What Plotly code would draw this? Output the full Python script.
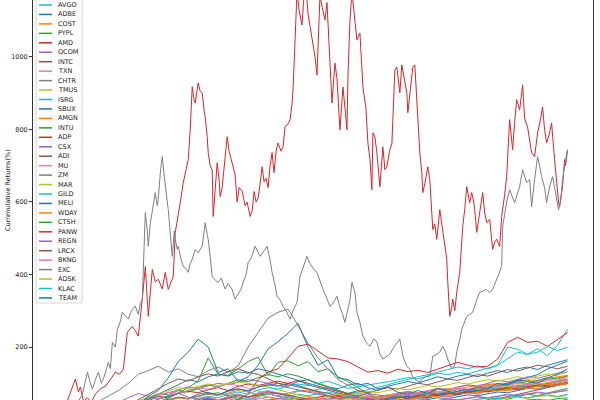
''' Cumulative returns of Nasdaq-100 names, recreated with plotly '''

import plotly.graph_objects as go

# Trading-day grid shared by the smaller series (every 20th day)
days = list(range(0, 1021, 20))

# The two big movers are read at irregular days to keep their spikes
tsla_days = [0, 8, 16, 24, 34, 40, 44, 50, 58, 66, 74, 84, 94, 104, 114, 122, 130, 138, 148, 154, 160, 168, 174, 180, 188, 194,
             200, 208, 214, 220, 226, 230, 234, 240, 244, 250, 256, 260, 264, 268, 272, 274, 278, 280, 284, 288, 292, 294, 298,
             300, 304, 308, 310, 314, 318, 322, 324, 328, 332, 338, 342, 348, 354, 358, 362, 368, 374, 378, 384, 388, 392, 396,
             400, 404, 408, 412, 416, 420, 424, 428, 432, 436, 440, 446, 450, 454, 460, 464, 468, 470, 474, 478, 482, 488, 492,
             496, 500, 504, 510, 514, 518, 522, 524, 528, 534, 538, 544, 548, 554, 558, 564, 570, 574, 578, 580, 584, 588, 592,
             598, 604, 610, 616, 620, 624, 628, 630, 634, 638, 640, 644, 650, 654, 658, 664, 668, 670, 674, 678, 684, 688, 694,
             698, 700, 704, 708, 710, 714, 718, 722, 724, 728, 730, 734, 738, 740, 744, 748, 750, 754, 758, 764, 770, 774, 778,
             780, 784, 788, 790, 794, 798, 804, 810, 814, 818, 824, 828, 832, 834, 838, 844, 848, 850, 854, 858, 864, 868, 870,
             874, 878, 884, 888, 894, 898, 904, 908, 910, 914, 918, 924, 930, 934, 940, 944, 948, 954, 960, 966, 970, 974, 978,
             984, 988, 994, 998, 1002, 1004, 1008, 1010, 1014, 1016, 1020]
tsla = [0, 20, 45, 76, 112, 76, 90, 50, 60, 48, 70, 85, 92, 110, 131, 125, 139, 241, 257, 245, 230, 332, 422, 285, 414, 380,
        387, 360, 406, 359, 380, 395, 516, 560, 598, 653, 690, 717, 800, 918, 880, 873, 910, 928, 905, 900, 850, 835, 780,
        736, 700, 689, 560, 650, 708, 660, 615, 640, 700, 780, 740, 708, 675, 600, 640, 630, 590, 600, 560, 575, 629, 600,
        610, 650, 697, 656, 665, 640, 700, 736, 681, 740, 763, 740, 752, 808, 815, 827, 870, 909, 1050, 1180, 1130, 1088, 1170,
        1190, 1120, 1083, 1039, 1000, 950, 1100, 1170, 1140, 1102, 1150, 992, 873, 983, 940, 799, 917, 860, 799, 945, 1100, 1180, 1120,
        1047, 1066, 917, 860, 763, 720, 634, 791, 780, 736, 708, 642, 752, 689, 697, 744, 760, 846, 964, 972, 901, 978, 930,
        901, 846, 900, 945, 972, 978, 882, 800, 736, 681, 626, 650, 689, 697, 662, 587, 524, 540, 497, 579, 516, 480, 442,
        380, 285, 310, 332, 300, 351, 406, 532, 580, 642, 598, 626, 600, 579, 516, 571, 600, 626, 570, 543, 552, 500, 469,
        490, 497, 477, 560, 620, 670, 827, 780, 744, 820, 882, 854, 923, 830, 807, 770, 736, 725, 791, 830, 862, 800, 763,
        790, 818, 717, 653, 600, 587, 620, 642, 717, 700, 744]

nvda_days = [0, 8, 16, 24, 32, 40, 48, 58, 64, 68, 74, 80, 86, 92, 100, 104, 108, 114, 118, 124, 128, 134, 140, 146, 154, 160,
             164, 168, 172, 174, 178, 180, 184, 188, 192, 194, 198, 200, 204, 208, 212, 214, 218, 220, 224, 228, 232, 234, 238,
             240, 246, 250, 256, 260, 264, 268, 274, 280, 288, 294, 298, 300, 304, 308, 314, 320, 326, 334, 340, 348, 354, 360,
             366, 370, 376, 380, 386, 394, 400, 404, 410, 418, 424, 428, 434, 438, 444, 450, 456, 464, 470, 478, 484, 490, 498,
             504, 508, 514, 518, 524, 530, 536, 544, 550, 558, 564, 568, 574, 578, 584, 588, 594, 598, 604, 610, 618, 624, 632,
             638, 644, 650, 658, 664, 672, 680, 684, 690, 698, 704, 710, 718, 724, 728, 736, 744, 750, 758, 764, 770, 776, 780,
             788, 794, 798, 804, 808, 814, 818, 824, 830, 838, 844, 852, 858, 864, 870, 876, 880, 884, 888, 890, 894, 898, 904,
             910, 914, 920, 924, 930, 934, 938, 944, 948, 954, 960, 964, 968, 974, 978, 984, 990, 994, 998, 1002, 1006, 1010,
             1014, 1020]
nvda = [0, 10, 20, 30, 45, 50, 70, 131, 100, 84, 110, 131, 100, 120, 158, 140, 213, 200, 249, 270, 296, 285, 277, 300, 313, 290,
        320, 332, 480, 571, 520, 478, 540, 571, 600, 626, 590, 607, 680, 725, 670, 642, 600, 579, 500, 450, 520, 497, 470,
        478, 440, 422, 415, 406, 430, 442, 469, 460, 478, 543, 510, 497, 450, 395, 385, 378, 390, 360, 375, 359, 332, 345,
        360, 378, 400, 433, 445, 478, 460, 450, 462, 478, 440, 406, 370, 340, 330, 312, 300, 277, 300, 323, 395, 420, 450,
        430, 422, 410, 406, 380, 359, 340, 312, 320, 340, 310, 296, 268, 297, 330, 378, 351, 296, 268, 230, 210, 202, 222,
        215, 180, 167, 175, 180, 200, 216, 222, 175, 147, 139, 117, 108, 103, 112, 118, 120, 175, 180, 186, 202, 185, 167,
        139, 150, 186, 220, 249, 270, 285, 290, 296, 330, 351, 355, 359, 350, 359, 380, 395, 405, 422, 532, 571, 600, 634,
        610, 598, 625, 642, 689, 670, 653, 662, 587, 662, 725, 700, 670, 640, 598, 642, 670, 640, 607, 579, 600, 662,
        700, 744]

# Smaller series, one value per grid day
aapl = [0, 4, 8, 5, 12, 18, 22, 15, 25, 35, 45, 52, 60, 58, 70, 75, 68, 80, 85, 78, 90, 95, 100, 92, 105, 110,
        98, 90, 85, 95, 100, 88, 80, 92, 98, 105, 100, 110, 118, 112, 120, 125, 118, 128, 135, 130, 140, 145, 138, 150, 158, 165]
msft = [0, 3, 6, 2, 10, 14, 18, 12, 20, 28, 34, 40, 45, 42, 50, 55, 48, 58, 62, 55, 66, 70, 74, 68, 78, 82,
        72, 65, 60, 70, 74, 66, 60, 68, 72, 78, 74, 80, 85, 82, 90, 94, 88, 96, 100, 95, 104, 108, 102, 110, 115, 120]
amzn = [0, 5, 9, 4, 15, 22, 30, 35, 48, 60, 72, 68, 80, 76, 85, 70, 74, 66, 70, 62, 68, 72, 64, 60, 58, 52,
        48, 44, 40, 36, 32, 28, 35, 30, 38, 42, 36, 40, 45, 42, 48, 52, 46, 55, 60, 56, 64, 70, 66, 74, 80, 86]
googl = [0, 2, -4, 5, 10, 15, 12, 8, 20, 28, 36, 42, 50, 46, 55, 60, 52, 62, 68, 60, 72, 78, 70, 64, 58, 50,
         44, 40, 36, 42, 48, 40, 36, 44, 50, 56, 52, 60, 66, 62, 70, 76, 70, 80, 86, 82, 90, 96, 92, 100, 105, 110]
meta = [0, 4, -2, 8, 12, 6, 10, 18, 26, 34, 30, 40, 48, 44, 52, 58, 50, 45, 38, 30, 22, 15, 10, 5, 0, -10,
        -20, -25, -30, -22, -15, -20, -12, -5, -10, 0, 8, 14, 20, 26, 32, 40, 46, 52, 58, 64, 70, 76, 82, 88, 95, 100]
goog = [0, 3, -2, 6, 11, 16, 13, 10, 22, 30, 38, 44, 52, 48, 58, 62, 55, 64, 70, 62, 74, 80, 72, 66, 60, 52,
        46, 42, 38, 44, 50, 42, 38, 46, 52, 58, 54, 62, 68, 64, 72, 78, 72, 82, 88, 84, 92, 98, 94, 102, 107, 112]
pep = [0, 2, 4, 1, 5, 8, 10, 6, 12, 15, 18, 14, 20, 22, 18, 24, 26, 22, 28, 30, 26, 32, 35, 30, 34, 38,
       35, 40, 36, 42, 45, 40, 38, 44, 46, 42, 48, 50, 46, 52, 55, 50, 56, 58, 54, 60, 62, 58, 64, 66, 62, 68]
avgo = [0, 3, 6, 2, 8, 12, 10, 15, 20, 26, 30, 36, 40, 38, 45, 50, 46, 54, 60, 56, 64, 70, 66, 74, 80, 76,
        84, 88, 80, 72, 76, 82, 90, 96, 104, 112, 118, 124, 130, 138, 145, 140, 148, 139, 150, 200, 194, 180, 196, 176, 205, 249]
adbe = [0, 4, 8, 6, 12, 18, 24, 30, 36, 42, 48, 55, 62, 58, 66, 72, 68, 78, 84, 80, 90, 96, 92, 100, 94, 86,
        76, 66, 58, 50, 46, 40, 44, 48, 52, 46, 50, 56, 60, 58, 64, 68, 66, 72, 76, 74, 80, 86, 84, 90, 96, 100]
cost = [0, 2, 4, 3, 6, 10, 12, 9, 14, 18, 20, 17, 22, 26, 28, 25, 30, 34, 36, 33, 38, 42, 46, 44, 50, 54,
        58, 55, 60, 64, 62, 58, 62, 66, 70, 74, 72, 78, 82, 86, 84, 90, 94, 98, 96, 102, 106, 110, 108, 114, 118, 122]
pypl = [0, 4, -4, -8, 2, 8, 14, 20, 28, 38, 48, 60, 74, 88, 106, 170, 125, 122, 140, 160, 172, 122, 158, 162, 148, 160,
        132, 140, 118, 105, 88, 72, 60, 48, 36, 28, 22, 15, 10, 6, 2, -4, -8, -6, -12, -10, -14, -10, -16, -12, -18, -15]
amd = [0, 3, 6, 2, 10, 16, 22, 28, 40, 52, 64, 60, 72, 78, 74, 82, 88, 80, 92, 98, 94, 100, 106, 100, 108, 100,
       92, 84, 76, 70, 64, 58, 54, 60, 64, 58, 62, 68, 72, 68, 74, 78, 76, 82, 86, 84, 90, 96, 94, 100, 106, 110]
qcom = [0, 2, -4, -10, -2, 10, 22, 34, 46, 56, 66, 74, 82, 90, 86, 94, 100, 96, 104, 110, 106, 100, 94, 88, 80, 74,
        68, 62, 58, 64, 68, 62, 58, 64, 70, 66, 72, 76, 72, 78, 82, 78, 84, 88, 84, 90, 94, 90, 96, 100, 96, 102]
intc = [0, 3, 6, -2, -10, -4, 2, -6, -12, -8, -14, -10, -6, -12, -18, -14, -20, -16, -10, -6, -12, -18, -24, -30, -36, -42,
        -48, -44, -50, -46, -52, -48, -44, -50, -46, -42, -38, -34, -30, -34, -30, -26, -30, -26, -22, -26, -20, -24, -18, -22, -16, -20]
txn = [0, 2, -4, -8, -2, 4, 10, 16, 20, 26, 30, 28, 34, 38, 36, 42, 46, 44, 50, 54, 50, 46, 40, 34, 30, 36,
       40, 34, 30, 36, 40, 36, 42, 46, 42, 48, 52, 48, 54, 58, 54, 60, 64, 60, 66, 70, 66, 72, 76, 72, 78, 82]
chtr = [0, 3, 6, 4, 10, 16, 20, 16, 24, 30, 28, 34, 38, 34, 40, 44, 38, 30, 22, 14, 6, 0, -10, -20, -30, -38,
        -44, -40, -46, -50, -48, -44, -40, -36, -40, -36, -32, -34, -30, -26, -28, -24, -20, -22, -18, -14, -16, -12, -8, -10, -6, -4]
tmus = [0, 3, 6, 2, 8, 14, 18, 14, 22, 28, 32, 28, 36, 40, 36, 42, 46, 42, 48, 52, 48, 54, 58, 54, 60, 64,
        60, 56, 52, 58, 62, 58, 64, 68, 64, 70, 74, 70, 76, 80, 76, 82, 86, 82, 88, 92, 88, 94, 98, 94, 100, 106]
isrg = [0, 2, 5, 1, 8, 12, 15, 10, 18, 22, 28, 34, 38, 35, 42, 48, 44, 50, 56, 52, 58, 62, 58, 65, 70, 66,
        72, 76, 70, 64, 66, 60, 56, 62, 66, 70, 66, 72, 76, 72, 78, 82, 78, 84, 88, 84, 90, 94, 90, 96, 100, 104]
sbux = [0, 2, -2, -10, -6, 0, 6, 10, 14, 12, 18, 22, 20, 26, 30, 28, 34, 38, 36, 40, 44, 42, 46, 40, 34, 28,
        24, 20, 16, 22, 26, 20, 18, 24, 28, 26, 30, 34, 32, 36, 40, 38, 42, 46, 44, 48, 50, 46, 52, 54, 50, 56]
amgn = [0, 2, 4, 1, 6, 10, 8, 12, 16, 14, 18, 22, 20, 24, 28, 26, 30, 34, 32, 36, 40, 38, 34, 30, 32, 36,
        40, 44, 48, 52, 50, 54, 58, 56, 60, 64, 62, 66, 70, 68, 72, 76, 74, 78, 82, 80, 84, 88, 86, 90, 94, 98]
intu = [0, 3, -4, -8, 0, 10, 20, 30, 40, 48, 56, 64, 72, 80, 88, 96, 90, 100, 110, 104, 116, 124, 118, 126, 120, 110,
        100, 90, 80, 72, 64, 58, 52, 58, 64, 60, 68, 74, 70, 78, 84, 80, 88, 94, 90, 98, 104, 100, 108, 116, 112, 120]
adp = [0, 2, -6, -14, -8, 0, 4, 8, 6, 12, 16, 14, 18, 22, 20, 24, 28, 26, 30, 34, 38, 42, 46, 50, 54, 58,
       62, 66, 64, 60, 56, 58, 62, 66, 60, 64, 68, 66, 70, 74, 72, 76, 80, 78, 84, 88, 86, 92, 96, 94, 100, 104]
csx = [0, 3, -2, -6, 2, 8, 14, 18, 22, 26, 30, 28, 34, 38, 36, 42, 46, 44, 48, 52, 50, 54, 58, 56, 50, 44,
       40, 36, 42, 46, 40, 36, 40, 44, 40, 46, 50, 48, 52, 56, 54, 58, 62, 60, 64, 68, 66, 70, 74, 72, 76, 80]
adi = [0, 3, -3, -10, -4, 4, 10, 16, 22, 28, 34, 40, 46, 42, 50, 56, 52, 60, 66, 62, 70, 76, 72, 68, 62, 56,
       50, 44, 48, 54, 50, 46, 52, 58, 54, 60, 64, 60, 66, 72, 68, 74, 80, 76, 82, 86, 82, 88, 94, 90, 96, 100]
mu = [0, 4, -6, -16, -8, 6, 20, 32, 44, 56, 66, 76, 72, 80, 88, 84, 92, 98, 94, 86, 78, 70, 62, 56, 50, 44,
      40, 46, 52, 48, 54, 60, 56, 62, 68, 64, 70, 76, 72, 78, 84, 80, 86, 92, 88, 96, 102, 98, 106, 112, 108, 116]
zm = [0, 10, 20, 35, 50, 65, 80, 100, 125, 135, 147, 131, 140, 125, 118, 135, 145, 130, 148, 200, 241, 280, 296, 305, 260, 210,
      170, 140, 110, 95, 80, 70, 60, 50, 42, 36, 30, 26, 22, 18, 15, 12, 10, 8, 6, 8, 5, 3, 6, 4, 2, 4]
mar = [0, 2, -10, -35, -30, -24, -18, -14, -10, -6, -2, 2, -2, 4, 8, 6, 12, 16, 20, 24, 28, 32, 36, 40, 44, 48,
       52, 56, 60, 58, 62, 66, 64, 68, 72, 70, 74, 78, 76, 80, 84, 82, 86, 90, 88, 92, 96, 94, 98, 102, 100, 106]
gild = [0, 3, 1, 6, 10, 8, 12, 18, 22, 20, 16, 14, 10, 12, 8, 6, 4, 8, 10, 6, 2, -2, 0, 4, 8, 12,
        10, 14, 18, 22, 26, 30, 34, 38, 42, 40, 44, 48, 46, 50, 54, 52, 56, 60, 58, 62, 64, 60, 66, 68, 64, 70]
meli = [0, 4, 8, 3, 10, 18, 26, 34, 44, 56, 70, 82, 96, 110, 104, 118, 126, 120, 132, 128, 140, 134, 126, 118, 108, 96,
        88, 80, 72, 66, 60, 54, 50, 56, 60, 64, 58, 62, 68, 72, 78, 84, 80, 88, 94, 100, 108, 116, 124, 140, 150, 161]
wday = [0, 4, -4, -12, -4, 6, 14, 22, 30, 38, 46, 52, 60, 56, 64, 70, 66, 74, 80, 76, 70, 62, 54, 46, 40, 34,
        30, 36, 42, 38, 44, 50, 46, 52, 58, 54, 60, 66, 62, 68, 74, 70, 76, 82, 78, 84, 90, 86, 92, 98, 94, 102]
ctsh = [0, 2, -6, -14, -8, -2, 4, 8, 12, 16, 20, 18, 24, 28, 26, 30, 34, 32, 36, 40, 38, 34, 30, 26, 22, 26,
        30, 26, 22, 26, 30, 28, 32, 36, 34, 38, 40, 36, 42, 44, 40, 46, 48, 44, 50, 52, 48, 54, 56, 52, 58, 60]
panw = [0, 2, 5, 3, 8, 12, 10, 15, 20, 26, 30, 28, 35, 40, 38, 45, 50, 48, 55, 70, 110, 131, 140, 170, 202, 208,
        190, 170, 167, 160, 145, 131, 135, 128, 139, 132, 136, 130, 139, 148, 158, 150, 145, 147, 167, 213, 227, 213, 216, 202, 222, 240]
regn = [0, 5, 12, 18, 26, 36, 48, 60, 72, 64, 58, 66, 72, 62, 56, 60, 52, 48, 54, 50, 46, 42, 48, 52, 46, 50,
        56, 60, 56, 62, 66, 72, 68, 64, 70, 76, 72, 80, 86, 82, 90, 96, 92, 100, 108, 104, 112, 118, 114, 122, 128, 132]
lrcx = [0, 5, -5, -15, -5, 10, 25, 40, 55, 70, 85, 100, 112, 106, 118, 126, 120, 132, 140, 130, 125, 112, 100, 96, 90, 84,
        78, 72, 66, 72, 80, 74, 80, 88, 84, 92, 100, 96, 104, 112, 108, 116, 124, 120, 130, 138, 134, 142, 150, 146, 140, 147]
bkng = [0, 2, -10, -30, -24, -18, -12, -8, -4, 0, 6, 10, 14, 20, 26, 32, 38, 44, 50, 56, 60, 54, 48, 44, 50, 56,
        60, 54, 48, 52, 58, 64, 60, 66, 72, 68, 74, 80, 76, 82, 88, 84, 90, 94, 90, 96, 100, 96, 102, 108, 104, 110]
exc = [0, 2, 4, 1, -4, -10, -8, -4, 0, 2, 5, 3, 6, 8, 5, 10, 12, 9, 14, 16, 13, 18, 20, 17, 22, 24,
       21, 26, 28, 25, 30, 28, 26, 30, 32, 29, 34, 36, 33, 38, 36, 40, 42, 39, 44, 46, 43, 48, 50, 47, 52, 54]
adsk = [0, 4, -4, -10, -2, 12, 26, 40, 52, 62, 72, 80, 88, 84, 92, 98, 94, 100, 104, 100, 96, 90, 82, 74, 68, 62,
        58, 64, 70, 66, 72, 78, 74, 80, 86, 82, 88, 94, 90, 96, 102, 98, 104, 110, 106, 112, 118, 114, 120, 126, 122, 132]
klac = [0, 4, 8, 3, 12, 18, 22, 16, 26, 34, 40, 46, 52, 48, 58, 64, 60, 70, 76, 70, 82, 88, 84, 92, 98, 94,
        100, 106, 96, 86, 90, 96, 100, 104, 110, 116, 112, 120, 128, 124, 130, 126, 134, 140, 150, 168, 186, 180, 186, 202, 190, 200]
team = [0, 5, -3, 10, 18, 25, 30, 22, 40, 65, 80, 115, 160, 186, 222, 200, 130, 140, 105, 118, 150, 195, 215, 238, 265, 200,
        150, 165, 115, 110, 95, 100, 85, 90, 75, 70, 80, 72, 85, 78, 70, 80, 90, 85, 100, 95, 110, 105, 100, 115, 125, 140]

# Tickers in plotting order; the first nine sit above the visible part of the legend
tickers = ['AAPL', 'MSFT', 'AMZN', 'TSLA', 'GOOGL', 'META', 'GOOG', 'NVDA', 'PEP',
           'AVGO', 'ADBE', 'COST', 'PYPL', 'AMD', 'QCOM', 'INTC', 'TXN', 'CHTR', 'TMUS',
           'ISRG', 'SBUX', 'AMGN', 'INTU', 'ADP', 'CSX', 'ADI', 'MU', 'ZM', 'MAR',
           'GILD', 'MELI', 'WDAY', 'CTSH', 'PANW', 'REGN', 'LRCX', 'BKNG', 'EXC', 'ADSK', 'KLAC', 'TEAM']
series = [aapl, msft, amzn, tsla, googl, meta, goog, nvda, pep,
          avgo, adbe, cost, pypl, amd, qcom, intc, txn, chtr, tmus,
          isrg, sbux, amgn, intu, adp, csx, adi, mu, zm, mar,
          gild, meli, wday, ctsh, panw, regn, lrcx, bkng, exc, adsk, klac, team]
first_shown = 9  # AVGO is the first legend row that is visible

TAB10 = ['#1f77b4', '#ff7f0e', '#2ca02c', '#d62728', '#9467bd',
         '#8c564b', '#e377c2', '#7f7f7f', '#bcbd22', '#17becf']
FONT = 'DejaVu Sans'
W, H = 600, 400
L, R = 33, 7  # plot area margins in pixels


def px_x(px: float) -> float:
    ''' Pixel column to paper x '''
    return (px - L) / (W - L - R)


def px_y(py: float) -> float:
    ''' Pixel row to paper y '''
    return 1 - py / H


fig = go.Figure()
for i, (name, vals) in enumerate(zip(tickers, series)):
    if name == 'TSLA':
        xs = tsla_days
    elif name == 'NVDA':
        xs = nvda_days
    else:
        xs = days
    fig.add_trace(go.Scatter(
        x=xs, y=vals, name=name, mode='lines',
        line=dict(width=1, color=TAB10[i % 10]),
        hoverinfo='skip',
    ))

# Legend drawn by hand: plotly's minimum row height is too tall for 41 rows
shapes = [dict(type='rect', xref='paper', yref='paper',
               x0=px_x(36), x1=px_x(82), y0=px_y(303), y1=px_y(-5),
               line=dict(color='#d5d5d5', width=1), fillcolor='rgba(255,255,255,0.85)', layer='above')]
annotations = []
for k, name in enumerate(tickers[first_shown:]):
    row_y = 5 + k * 9.45
    color = TAB10[(k + first_shown) % 10]
    shapes.append(dict(type='line', xref='paper', yref='paper',
                       x0=px_x(39), x1=px_x(52), y0=px_y(row_y), y1=px_y(row_y),
                       line=dict(color=color, width=1.5), layer='above'))
    annotations.append(dict(x=px_x(56), y=px_y(row_y), xref='paper', yref='paper',
                            text=name, showarrow=False, xanchor='left', yanchor='middle',
                            font=dict(family=FONT, size=6.5, color='#222')))

# Rotated axis label, centred where it sits in the cropped original
annotations.append(dict(x=px_x(8), y=px_y(190), xref='paper', yref='paper',
                        text='Cummulative Returns(%)', showarrow=False, textangle=-90,
                        xanchor='center', yanchor='middle',
                        font=dict(family=FONT, size=6.5, color='#222')))

fig.update_layout(
    width=W, height=H,
    margin=dict(l=L, r=R, t=0, b=0),
    plot_bgcolor='white', paper_bgcolor='white',
    showlegend=False,
    shapes=shapes, annotations=annotations,
    xaxis=dict(range=[-51, 1071], visible=False, showgrid=False, zeroline=False),
    yaxis=dict(range=[54, 1157], tickvals=[200, 400, 600, 800, 1000],
               ticks='outside', ticklen=3, tickcolor='#333', tickwidth=1,
               showline=True, mirror=True, linecolor='#333', linewidth=1,
               showgrid=False, zeroline=False,
               tickfont=dict(family=FONT, size=6.5, color='#222')),
)

# Drop the browser's default 8px body margin so the figure sits at the page corner
fig.write_html("out.html", config={'displayModeBar': False},
               post_script="document.body.style.margin='0';")
